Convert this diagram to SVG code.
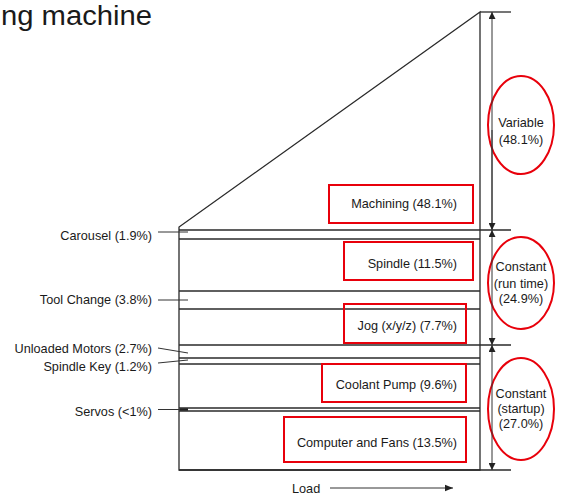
<svg xmlns="http://www.w3.org/2000/svg" width="572" height="496" viewBox="0 0 572 496">
<style>
text{font-family:"Liberation Sans",Arial,sans-serif;font-size:12.7px;fill:#1a1a1a}
.r{text-anchor:end}
.m{text-anchor:middle}
.ln{stroke:#2a2a2a;stroke-width:1.3;fill:none}
.thin{stroke:#333;stroke-width:1;fill:none}
.box{fill:none;stroke:#e8000b;stroke-width:2}
.ell{fill:none;stroke:#e8000b;stroke-width:2}
</style>
<defs>
<marker id="ah" viewBox="0 0 10 10" refX="10" refY="5" markerWidth="7" markerHeight="7" orient="auto-start-reverse" markerUnits="userSpaceOnUse">
<path d="M0,0 L10,5 L0,10 Z" fill="#222"/>
</marker>
<marker id="la" viewBox="0 0 10 10" refX="10" refY="5" markerWidth="8" markerHeight="8" orient="auto" markerUnits="userSpaceOnUse">
<path d="M0,1 L10,5 L0,9 Z" fill="#222"/>
</marker>
</defs>
<rect width="572" height="496" fill="#fff"/>
<text x="1" y="24.5" style="font-size:27px" textLength="151" lengthAdjust="spacingAndGlyphs">ng machine</text>

<g id="frame">
<path class="ln" d="M179,470 L179,227 L480,12 L480,470 Z"/>
<line class="ln" x1="480" y1="12" x2="511" y2="12"/>
<line class="ln" x1="179" y1="230" x2="511" y2="230"/>
<line class="ln" x1="179" y1="239" x2="480" y2="239"/>
<line class="ln" x1="179" y1="291" x2="480" y2="291"/>
<line class="ln" x1="179" y1="309" x2="480" y2="309"/>
<line class="ln" x1="179" y1="345" x2="511" y2="345"/>
<line class="ln" x1="179" y1="358" x2="480" y2="358"/>
<line class="ln" x1="179" y1="364" x2="480" y2="364"/>
<line class="ln" x1="179" y1="408" x2="480" y2="408"/>
<line class="ln" x1="179" y1="411" x2="480" y2="411"/>
<line class="ln" x1="179" y1="470" x2="511" y2="470"/>
<line x1="180" y1="409.5" x2="188" y2="409.5" stroke="#222" stroke-width="2.5"/>
</g>

<g id="machining"><rect class="box" x="329" y="185" width="144" height="38"/><text class="r" x="457" y="208">Machining (48.1%)</text></g>
<g id="spindle"><rect class="box" x="344" y="242" width="129" height="38"/><text class="r" x="457" y="268">Spindle (11.5%)</text></g>
<g id="jog"><rect class="box" x="344" y="304" width="122" height="39"/><text class="r" x="457" y="329.5">Jog (x/y/z) (7.7%)</text></g>
<g id="coolant"><rect class="box" x="322" y="364" width="144" height="38"/><text class="r" x="457" y="389">Coolant Pump (9.6%)</text></g>
<g id="computer"><rect class="box" x="284" y="417" width="182" height="45"/><text class="r" x="457" y="446.5">Computer and Fans (13.5%)</text></g>

<g id="variable"><ellipse class="ell" cx="521" cy="125" rx="33" ry="49"/><text class="m" x="521" y="126.5">Variable</text><text class="m" x="521" y="143.5">(48.1%)</text></g>
<g id="runtime"><ellipse class="ell" cx="521" cy="283" rx="33" ry="46"/><text class="m" x="521" y="271">Constant</text><text class="m" x="521" y="287.5">(run time)</text><text class="m" x="521" y="302.5">(24.9%)</text></g>
<g id="startup"><ellipse class="ell" cx="521" cy="409" rx="33" ry="51"/><text class="m" x="521" y="397.5">Constant</text><text class="m" x="521" y="412.5">(startup)</text><text class="m" x="521" y="427.5">(27.0%)</text></g>

<g id="carousel"><text class="r" x="152" y="239.5">Carousel (1.9%)</text></g>
<g id="toolchange"><text class="r" x="152" y="303.5">Tool Change (3.8%)</text></g>
<g id="unloaded"><text class="r" x="152" y="352.5">Unloaded Motors (2.7%)</text></g>
<g id="spindlekey"><text class="r" x="152" y="370.5">Spindle Key (1.2%)</text></g>
<g id="servos"><text class="r" x="152" y="415.5">Servos (&lt;1%)</text></g>
<g id="load"><text x="292" y="493">Load</text></g>

<g id="connectors">
<line class="thin" x1="492" y1="229" x2="492" y2="12" marker-end="url(#ah)"/>
<line class="thin" x1="492" y1="130" x2="492" y2="230" marker-end="url(#ah)"/>
<line class="thin" x1="492" y1="290" x2="492" y2="230" marker-end="url(#ah)"/>
<line class="thin" x1="492" y1="290" x2="492" y2="345" marker-end="url(#ah)"/>
<line class="thin" x1="492" y1="400" x2="492" y2="345" marker-end="url(#ah)"/>
<line class="thin" x1="492" y1="400" x2="492" y2="470" marker-end="url(#ah)"/>
<line class="thin" x1="158" y1="232" x2="188" y2="232"/>
<line class="thin" x1="158" y1="300" x2="188" y2="300"/>
<line class="thin" x1="158" y1="348" x2="188" y2="353"/>
<line class="thin" x1="158" y1="363" x2="188" y2="360"/>
<line class="thin" x1="158" y1="409.5" x2="180" y2="409.5"/>
<line class="thin" x1="330" y1="488" x2="453" y2="488" marker-end="url(#la)"/>
</g>
</svg>
